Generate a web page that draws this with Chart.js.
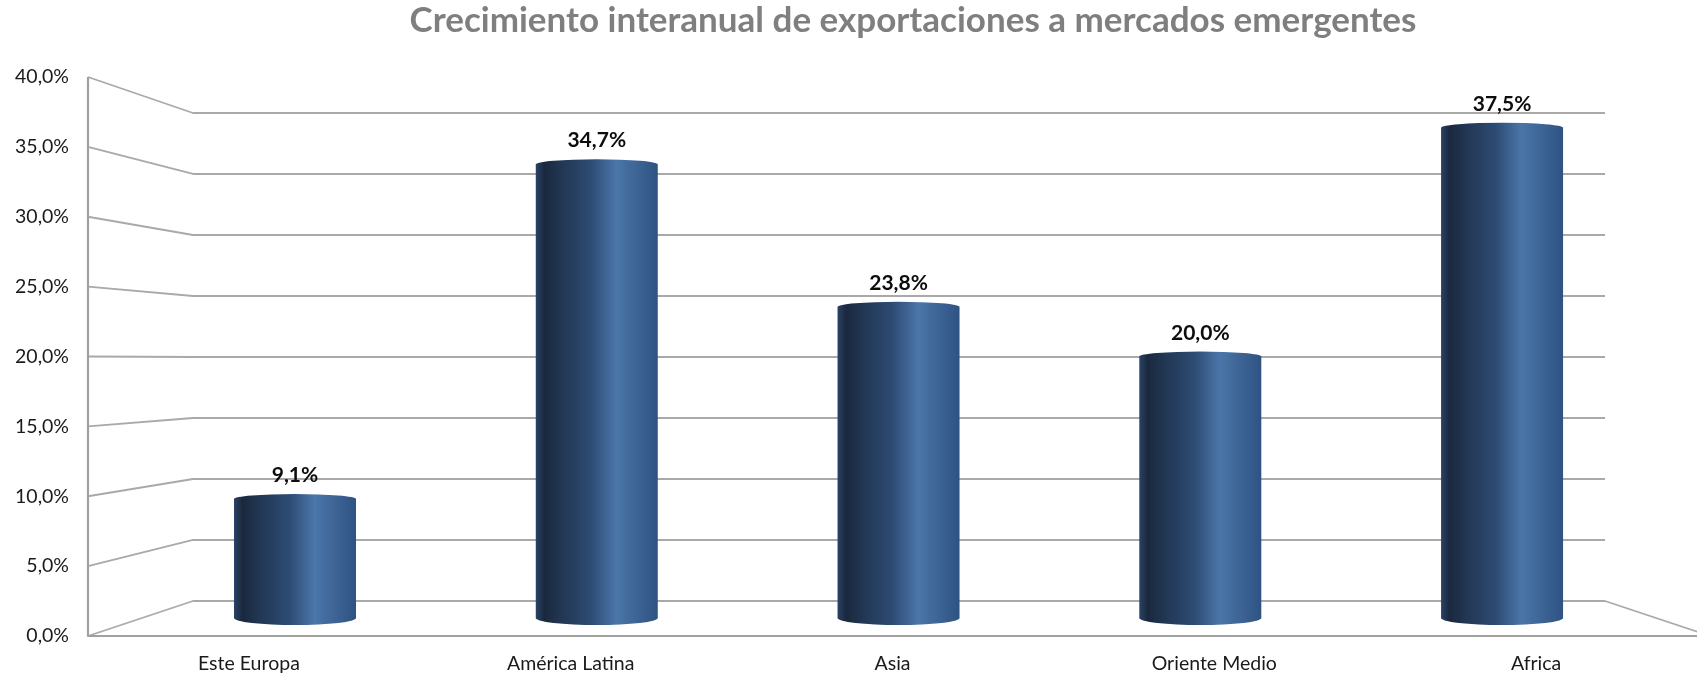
<!DOCTYPE html>
<html lang="es">
<head>
<meta charset="utf-8">
<title>Crecimiento interanual de exportaciones a mercados emergentes</title>
<script src="https://cdn.jsdelivr.net/npm/chart.js@4.4.1/dist/chart.umd.min.js"></script>
<style>
    html, body { margin: 0; padding: 0; background: #fff; }
    canvas { display: block; }
</style>
</head>
<body>
<canvas id="growth-chart" width="1697" height="676"></canvas>
<script>
const chartTitle = 'Crecimiento interanual de exportaciones a mercados emergentes';
const categories = ['Este Europa', 'América Latina', 'Asia', 'Oriente Medio', 'Africa'];
const growth = [9.1, 34.7, 23.8, 20.0, 37.5];
const yTicks = [0, 5, 10, 15, 20, 25, 30, 35, 40];

const FONT = 'Lato, "Open Sans", sans-serif';
const GRID_COLOR = '#a9a9a9';
// back wall edges of the 3D box
const BACK_LEFT = 193;
const BACK_RIGHT = 1605;

const pct = v => v.toFixed(1).replace('.', ',') + '%';

// title is slightly right of the canvas centre in the original
const titlePlugin = {
    id: 'chartTitle',
    afterDraw(chart) {
        const { ctx } = chart;
        ctx.save();
        ctx.fillStyle = '#7f7f7f';
        ctx.font = 'bold 35px ' + FONT;
        ctx.textAlign = 'center';
        ctx.textBaseline = 'middle';
        ctx.fillText(chartTitle, 913, 21);
        ctx.restore();
    }
};

// walls, side grid lines and floor
const wallsPlugin = {
    id: 'walls',
    beforeDatasetsDraw(chart) {
        const { ctx, chartArea, scales: { y, yk } } = chart;
        const front = chartArea.left;
        ctx.save();
        ctx.strokeStyle = GRID_COLOR;
        ctx.lineWidth = 1.8;
        ctx.lineJoin = 'round';

        yTicks.forEach(v => {
            ctx.beginPath();
            ctx.moveTo(front, y.getPixelForValue(v));
            ctx.lineTo(BACK_LEFT, yk.getPixelForValue(v));
            ctx.lineTo(BACK_RIGHT, yk.getPixelForValue(v));
            ctx.stroke();
        });

        // right edge of the floor
        ctx.beginPath();
        ctx.moveTo(BACK_RIGHT, yk.getPixelForValue(0));
        ctx.lineTo(BACK_RIGHT + (BACK_LEFT - front), y.getPixelForValue(0));
        ctx.stroke();

        // front axis + floor edge
        ctx.lineWidth = 2.2;
        ctx.strokeStyle = '#a0a0a0';
        ctx.beginPath();
        ctx.moveTo(front, y.getPixelForValue(yTicks[yTicks.length - 1]));
        ctx.lineTo(front, y.getPixelForValue(0));
        ctx.lineTo(chart.width + 20, y.getPixelForValue(0));
        ctx.stroke();
        ctx.restore();
    }
};

// cylinders drawn over the (invisible) bar elements
const cylinderPlugin = {
    id: 'cylinders',
    afterDatasetsDraw(chart) {
        const { ctx } = chart;
        const meta = chart.getDatasetMeta(0);
        ctx.save();
        meta.data.forEach((bar, i) => {
            const { x, y, base, width } = bar.getProps(['x', 'y', 'base', 'width'], true);
            const left = x - width / 2;
            const right = x + width / 2;
            const rx = width / 2;

            const grad = ctx.createLinearGradient(left, 0, right, 0);
            grad.addColorStop(0, '#2a4266');
            grad.addColorStop(0.07, '#1a283d');
            grad.addColorStop(0.2, '#213652');
            grad.addColorStop(0.45, '#2d4b73');
            grad.addColorStop(0.66, '#4b76a9');
            grad.addColorStop(0.8, '#3f6798');
            grad.addColorStop(1, '#2e5383');

            ctx.beginPath();
            ctx.moveTo(left, y);
            ctx.ellipse(x, y, rx, 5, 0, Math.PI, 0, false);
            ctx.lineTo(right, base);
            ctx.ellipse(x, base, rx, 7, 0, 0, Math.PI, false);
            ctx.closePath();
            ctx.fillStyle = grad;
            ctx.fill();

            ctx.fillStyle = '#0d0d0d';
            ctx.font = 'bold 21px ' + FONT;
            ctx.textAlign = 'center';
            ctx.textBaseline = 'alphabetic';
            ctx.fillText(pct(growth[i]), x, y - 17);
        });
        ctx.restore();
    }
};

const buildChart = () => {
    const ctx = document.getElementById('growth-chart').getContext('2d');
    return new Chart(ctx, {
        type: 'bar',
        data: {
            labels: categories,
            datasets: [{
                data: growth.map((v, i) => ({ x: i, y: v })),
                xAxisID: 'xb',
                yAxisID: 'yb',
                backgroundColor: 'transparent',
                borderWidth: 0,
                barThickness: 122
            }]
        },
        options: {
            responsive: false,
            animation: false,
            devicePixelRatio: 1,
            layout: { padding: { top: 77, left: 0, right: 0, bottom: 0 } },
            plugins: {
                legend: { display: false },
                tooltip: { enabled: false },
                title: { display: false }
            },
            scales: {
                x: {
                    type: 'category',
                    position: 'bottom',
                    offset: true,
                    grid: { display: false, drawTicks: false, tickLength: 0 },
                    border: { display: false },
                    ticks: { color: '#1a1a1a', font: { family: FONT, size: 19.5 }, padding: 16, maxRotation: 0 },
                    afterFit: s => { s.height = 40; }
                },
                y: {
                    type: 'linear',
                    position: 'left',
                    min: 0,
                    max: 40,
                    grid: { display: false, drawTicks: false, tickLength: 0 },
                    border: { display: false },
                    ticks: { color: '#1a1a1a', font: { family: FONT, size: 19.5 }, padding: 19, callback: v => pct(v) },
                    afterBuildTicks: s => { s.ticks = yTicks.map(v => ({ value: v })); },
                    afterFit: s => { s.width = 88; }
                },
                // hidden helper scales: middle depth (bars) and back wall
                xb: { type: 'linear', display: false, offset: false, min: -0.686, max: 4.646 },
                yb: { type: 'linear', display: false, min: -1.377, max: 41.38 },
                yk: { type: 'linear', display: false, min: -2.869, max: 42.95 }
            }
        },
        plugins: [wallsPlugin, cylinderPlugin, titlePlugin]
    });
};

document.fonts.load('bold 28px Lato').then(buildChart, buildChart);
</script>
</body>
</html>
